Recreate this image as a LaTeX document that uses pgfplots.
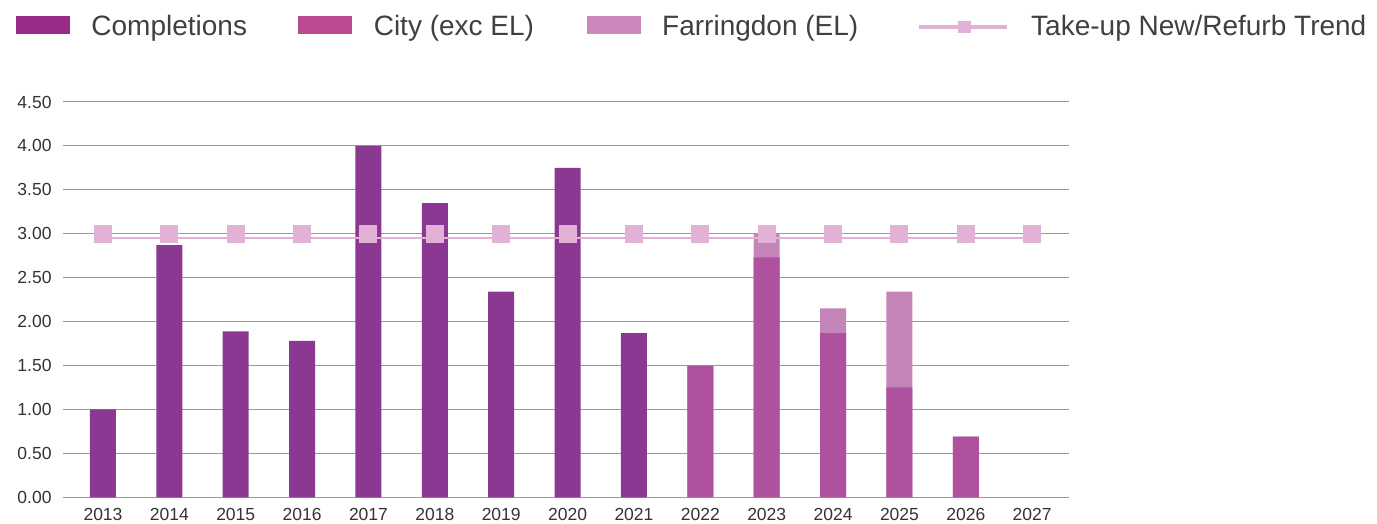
\documentclass[border=0pt]{standalone}
\usepackage{pgfplots}
\pgfplotsset{compat=1.18}
\usepackage{pgfplotstable}
\usepackage{fontspec}
\setmainfont{Liberation Sans}
\definecolor{compc}{HTML}{8B3892}
\definecolor{cityc}{HTML}{AE52A0}
\definecolor{farrc}{HTML}{C585B8}
\definecolor{trendc}{HTML}{E2B2D6}
\definecolor{compl}{HTML}{962C86}
\definecolor{cityl}{HTML}{B94A93}
\definecolor{farrl}{HTML}{CC88BC}
\definecolor{txt}{HTML}{404040}
\definecolor{tick}{HTML}{333333}
\definecolor{gridc}{HTML}{9A9A9A}

\pgfplotstableread{
x   y
0   1.00
1   2.87
2   1.89
3   1.78
4   4.00
5   3.35
6   2.34
7   3.75
8   1.87
}\completions
\pgfplotstableread{
x   city  farr
9   1.50  0.00
10  2.73  0.27
11  1.87  0.28
12  1.25  1.09
13  0.69  0.00
}\cityfarr
\pgfplotstableread{
x   line  mark
0   2.955 3.00
1   2.955 3.00
2   2.955 3.00
3   2.955 3.00
4   2.955 3.00
5   2.955 3.00
6   2.955 3.00
7   2.955 3.00
8   2.955 3.00
9   2.955 3.00
10  2.955 3.00
11  2.955 3.00
12  2.955 3.00
13  2.955 3.00
14  2.955 3.00
}\trend

\begin{document}
\begin{tikzpicture}[x=1pt,y=1pt]
\useasboundingbox (0,0) rectangle (1377,524);
\begin{axis}[
  at={(62.7pt,26.7pt)}, anchor=south west,
  scale only axis, width=1006pt, height=395.3pt,
  xmin=-0.607, xmax=14.55, ymin=0, ymax=4.5,
  axis line style={draw=none},
  major tick length=0pt,
  ymajorgrids, major grid style={gridc, line width=1pt},
  ytick={0,0.5,...,4.5},
  xtick={0,...,14},
  xticklabels={2013,2014,2015,2016,2017,2018,2019,2020,2021,2022,2023,2024,2025,2026,2027},
  /pgf/number format/assume math mode=true,
  yticklabel={\pgfmathprintnumber[fixed,fixed zerofill,precision=2]{\tick}},
  tick label style={inner sep=0pt, font=\fontsize{17.5}{20}\selectfont, text=tick},
  yticklabel shift=11pt,
  xticklabel shift=11pt,
  legend columns=4,
  legend style={at={(-0.0464,1.2188)}, anchor=north west, draw=none, fill=none,
    inner sep=0pt, outer sep=0pt,
    nodes={inner sep=0pt, outer sep=0pt, text height=20pt, text depth=6pt, text=txt,
           font=\fontsize{28}{32}\selectfont},
    /tikz/every odd column/.append style={column sep=22pt},
    /tikz/every even column/.append style={column sep=0pt}},
  legend cell align=left,
]
% bars
\addplot[ybar, bar width=26pt, bar shift=0pt, fill=compc, draw=none, forget plot]
  table[x=x, y=y] {\completions};
\addplot[ybar, bar width=26pt, bar shift=0pt, fill=farrc, draw=none, forget plot]
  table[x=x, y expr=\thisrow{city}+\thisrow{farr}] {\cityfarr};
\addplot[ybar, bar width=26pt, bar shift=0pt, fill=cityc, draw=none, forget plot]
  table[x=x, y=city] {\cityfarr};
% trend
\addplot[trendc, line width=2pt, no marks, forget plot] table[x=x, y=line] {\trend};
\addplot[trendc, only marks, mark=square*, mark size=8.5pt, mark options={fill=trendc, draw=trendc, line width=0pt}, forget plot]
  table[x=x, y=mark] {\trend};
% legend
\addlegendimage{legend image code/.code={\fill[compl] (0pt,-5pt) rectangle (53pt,12pt);}}
\addlegendentry{\makebox[207pt][l]{Completions}}
\addlegendimage{legend image code/.code={\fill[cityl] (0pt,-5pt) rectangle (53pt,12pt);}}
\addlegendentry{\makebox[213pt][l]{City (exc EL)}}
\addlegendimage{legend image code/.code={\fill[farrl] (0pt,-5pt) rectangle (53pt,12pt);}}
\addlegendentry{\makebox[255pt][l]{Farringdon (EL)}}
\addlegendimage{legend image code/.code={\path[draw=none,fill=none] (0pt,-4pt) rectangle (88pt,11pt); \draw[trendc, line width=4pt] (0pt,2pt) -- (88pt,2pt); \fill[trendc] (39pt,-4pt) rectangle (51pt,7pt);}}
\addlegendentry{Take-up New/Refurb Trend}
\end{axis}
\end{tikzpicture}
\end{document}
